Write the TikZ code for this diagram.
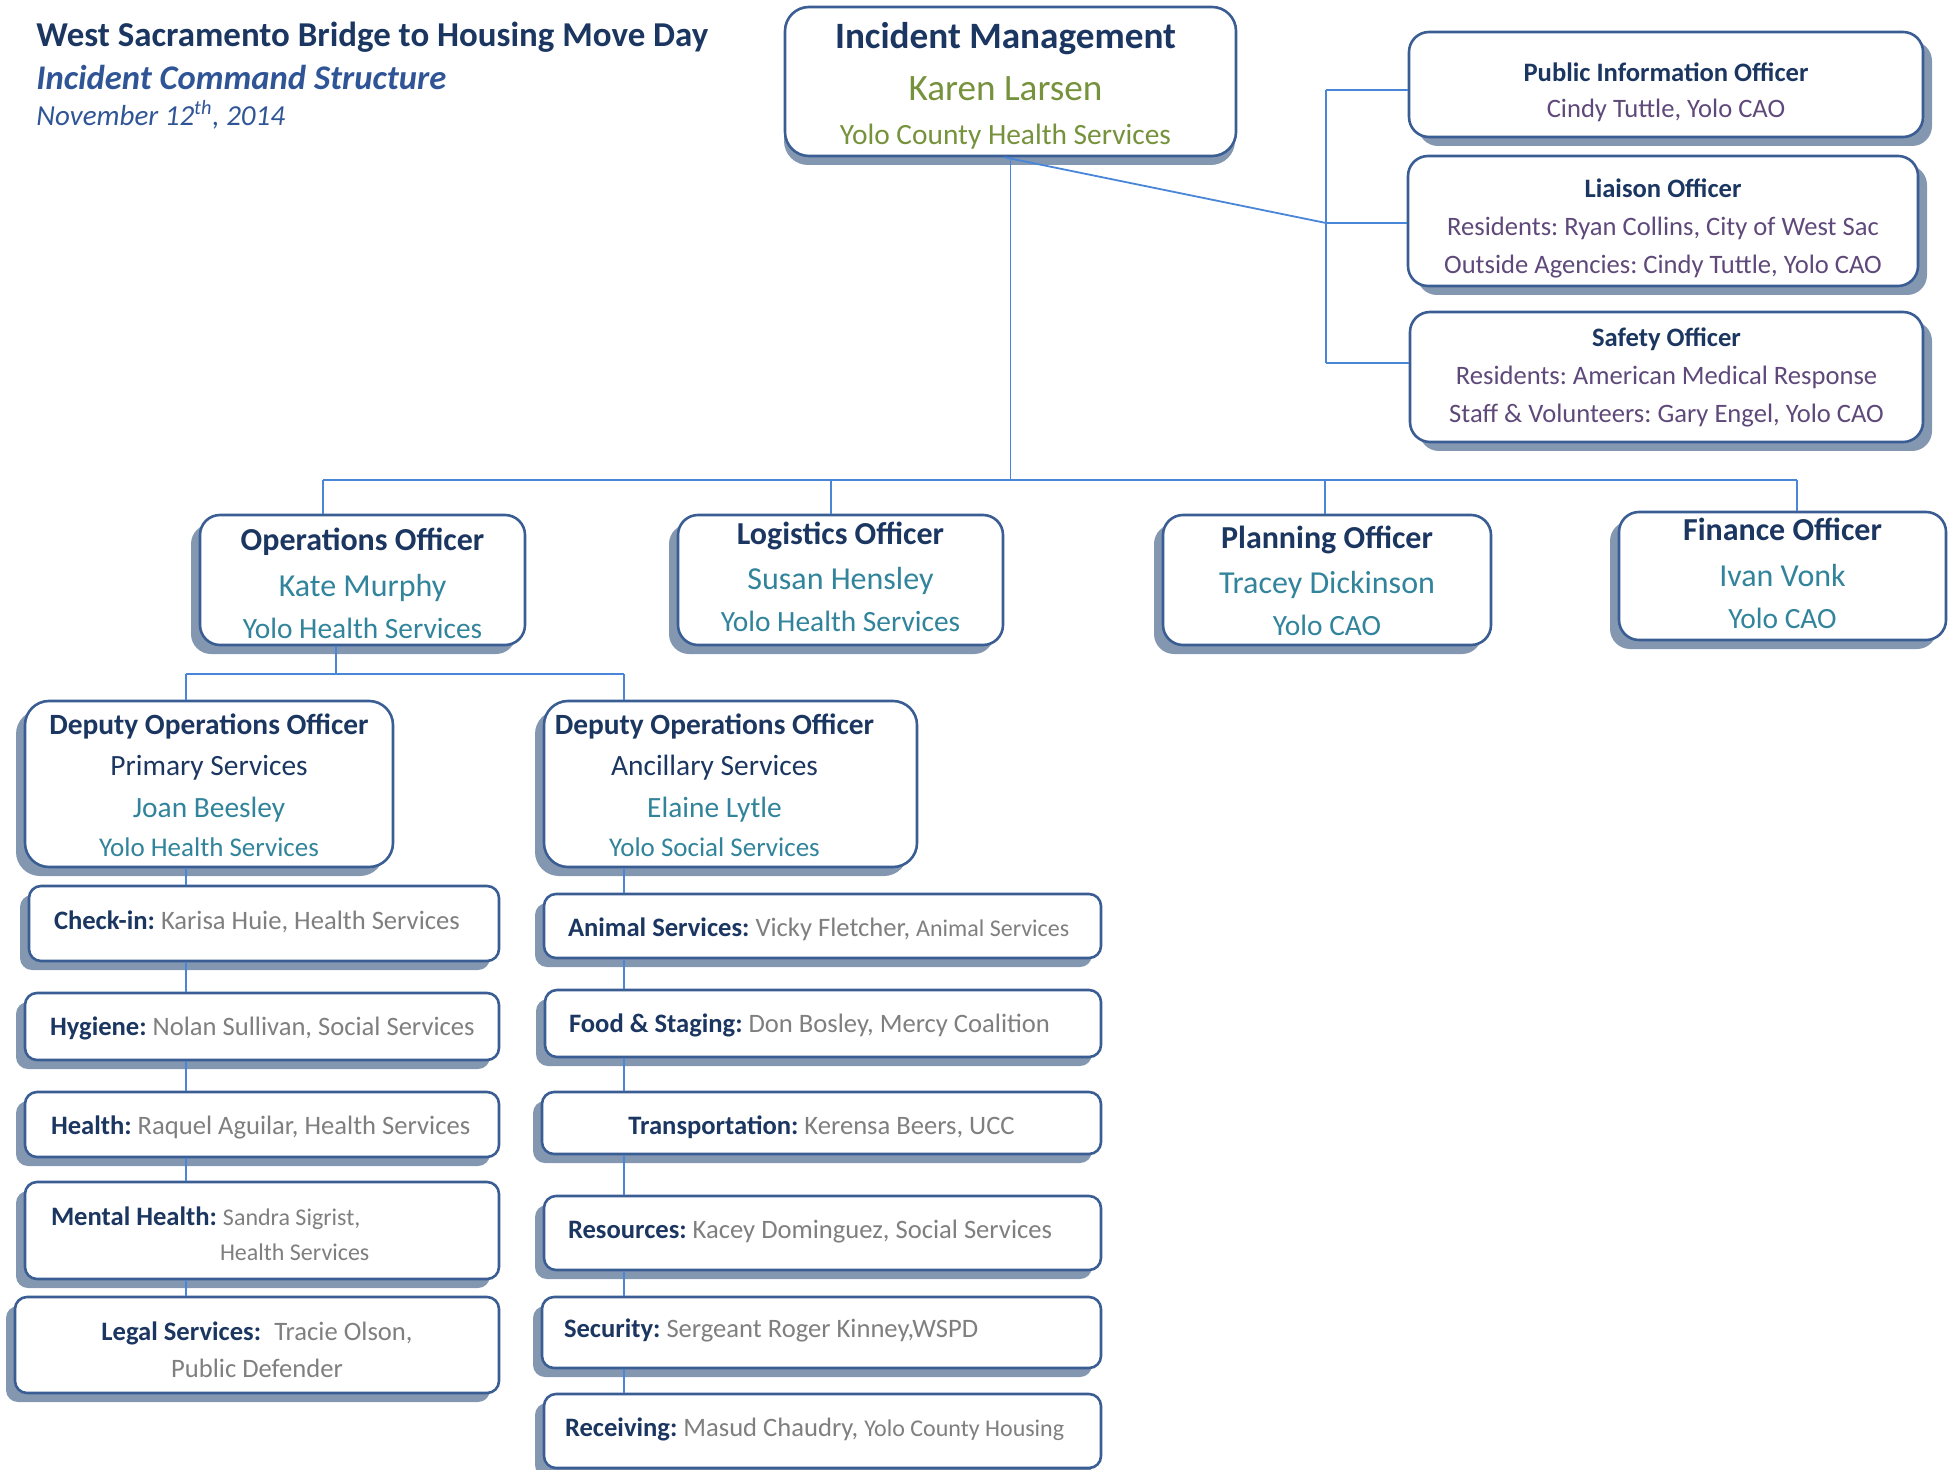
\documentclass[tikz,border=0pt]{standalone}
\usepackage{fontspec}
\setmainfont{Carlito}
\usetikzlibrary{shadows}
\definecolor{hd}{HTML}{1B3660}
\definecolor{tl}{HTML}{31849B}
\definecolor{pu}{HTML}{5F497A}
\definecolor{ol}{HTML}{76923C}
\definecolor{gr}{HTML}{7F7F7F}
\definecolor{bordc}{HTML}{3A5E94}
\definecolor{shadc}{HTML}{8497B0}
\definecolor{linec}{HTML}{4A86D8}
\definecolor{mb}{HTML}{2F5597}
\newcommand\fsz[2]{\fontsize{#1}{#2}\selectfont}
\newcommand\nsp{\spaceskip=0pt\xspaceskip=0pt\relax}
\frenchspacing
\begin{document}
\begin{tikzpicture}[x=0.5pt,y=-0.5pt,
  boxbase/.style={draw=bordc, line width=1.3pt, fill=white, inner sep=3pt},
  big/.style={boxbase, rounded corners=12pt},
  mid/.style={boxbase, rounded corners=10pt},
  small/.style={boxbase, rounded corners=6pt},
  shL/.style={general shadow={shadow xshift=-4.5pt, shadow yshift=-4.5pt, fill=shadc}},
  shR/.style={general shadow={shadow xshift=4.5pt, shadow yshift=-4.5pt, fill=shadc}},
  shD/.style={general shadow={shadow xshift=-0.5pt, shadow yshift=-4.5pt, fill=shadc}},
  conn/.style={draw=linec, line width=0.9pt},
  ttl/.style={anchor=west, inner sep=0pt},
  tb/.style={text height=0pt, text depth=#1},
  sl/.style={text height=#1, text depth=0pt},
  rowl/.style={small, shL, align=left, font=\fsz{13.3}{18}\frenchspacing},
  rowc/.style={small, shL, align=center, font=\fsz{13.3}{18.7}\frenchspacing}
]
\useasboundingbox (0,0) rectangle (1957,1470);

% titles
\node[ttl, font=\fsz{17.45}{20}\bfseries, text=hd] (t1) at (36,37) {West Sacramento Bridge to Housing Move Day};
\node[ttl, font=\fsz{17.3}{20}\bfseries\itshape, text=mb] (t2) at (36,77) {Incident Command Structure};
\node[ttl, font=\fsz{14.5}{18}\itshape, text=mb] (t3) at (36,115) {November 12\textsuperscript{th}, 2014};

% incident management
\node[big, shD, tb=33.3pt, text width=219.5pt, minimum height=74.5pt, align=center, font=\fsz{18.6}{21.9}] (im) at (1010.5,81.5)
 {\nsp\mbox{\bfseries\color{hd}Incident Management\hspace{5pt}}\\[4.3pt]\mbox{\color{ol}Karen Larsen\hspace{5pt}}\\\mbox{\fsz{14.7}{21.9}\color{ol}Yolo County Health Services\hspace{5pt}}};

% command staff
\node[mid, shR, tb=3.4pt, text width=251pt, minimum height=52.5pt, align=center, font=\fsz{13.3}{18.1}\frenchspacing] (pio) at (1666,84.5)
 {\nsp\mbox{\bfseries\color{hd}Public Information Officer}\\\mbox{\color{pu}Cindy Tuttle, Yolo CAO}};
\node[mid, shR, tb=23.8pt, text width=249pt, minimum height=65pt, align=center, font=\fsz{13.3}{19}\frenchspacing] (liaison) at (1663,221)
 {\nsp\mbox{\bfseries\color{hd}Liaison Officer}\\\mbox{\color{pu}Residents: Ryan Collins, City of West Sac}\\\mbox{\color{pu}Outside Agencies: Cindy Tuttle, Yolo CAO}};
\node[mid, shR, tb=30pt, text width=250.5pt, minimum height=65pt, align=center, font=\fsz{13.3}{19}\frenchspacing] (safety) at (1666.5,377)
 {\nsp\mbox{\bfseries\color{hd}Safety Officer}\\\mbox{\color{pu}Residents: American Medical Response}\\\mbox{\color{pu}Staff \& Volunteers: Gary Engel, Yolo CAO}};

% general staff
\node[mid, shL, tb=29.3pt, text width=156.5pt, minimum height=65pt, align=center, font=\fsz{16}{21}] (ops) at (362.5,580)
 {\nsp\mbox{\bfseries\color{hd}Operations Officer}\\[1.7pt]\mbox{\color{tl}Kate Murphy}\\\mbox{\fsz{14.7}{21}\color{tl}Yolo Health Services}};
\node[mid, shL, tb=35.5pt, text width=156.5pt, minimum height=65pt, align=center, font=\fsz{16}{21}] (log) at (840.5,580)
 {\nsp\mbox{\bfseries\color{hd}Logistics Officer}\\[1.7pt]\mbox{\color{tl}Susan Hensley}\\\mbox{\fsz{14.7}{21}\color{tl}Yolo Health Services}};
\node[mid, shL, tb=31.8pt, text width=158pt, minimum height=65pt, align=center, font=\fsz{16}{21}] (plan) at (1327,580)
 {\nsp\mbox{\bfseries\color{hd}Planning Officer}\\[1.7pt]\mbox{\color{tl}Tracey Dickinson}\\\mbox{\fsz{14.7}{21}\color{tl}Yolo CAO}};
\node[mid, shL, tb=35.2pt, text width=157.5pt, minimum height=64pt, align=center, font=\fsz{16}{21}] (fin) at (1782.5,576)
 {\nsp\mbox{\bfseries\color{hd}Finance Officer}\\[1.7pt]\mbox{\color{tl}Ivan Vonk}\\\mbox{\fsz{14.7}{21}\color{tl}Yolo CAO}};

% deputies
\node[big, shL, tb=49.4pt, text width=178pt, minimum height=83pt, align=center, font=\fsz{14.7}{20.6}] (dep1) at (209,784)
 {\nsp\mbox{\bfseries\color{hd}Deputy Operations Officer}\\\mbox{\color{hd}Primary Services}\\\mbox{\color{tl}Joan Beesley}\\[-1pt]\mbox{\fsz{13.5}{20.6}\color{tl}Yolo Health Services}};
\node[big, shL, tb=49.4pt, text width=180.5pt, minimum height=83pt, align=center, font=\fsz{14.7}{20.6}] (dep2) at (730.5,784)
 {\nsp\mbox{\bfseries\color{hd}Deputy Operations Officer\hspace{16pt}}\\\mbox{\color{hd}Ancillary Services\hspace{16pt}}\\\mbox{\color{tl}Elaine Lytle\hspace{16pt}}\\[-1pt]\mbox{\fsz{13.5}{20.6}\color{tl}Yolo Social Services\hspace{16pt}}};

% primary services units
\node[rowl, sl=6.3pt, text width=229pt, minimum height=37.5pt] (checkin) at (264,923.5)
 {\nsp\hspace*{9.5pt}\mbox{\textbf{\color{hd}Check-in:} \color{gr}Karisa Huie, Health Services}};
\node[rowl, sl=9.4pt, text width=231pt, minimum height=33.5pt] (hygiene) at (262,1026.5)
 {\nsp\hspace*{9.5pt}\mbox{\textbf{\color{hd}Hygiene:} \color{gr}Nolan Sullivan, Social Services}};
\node[rowl, sl=9.9pt, text width=231pt, minimum height=32.5pt] (health) at (262,1124.5)
 {\nsp\hspace*{10pt}\mbox{\textbf{\color{hd}Health:} \color{gr}Raquel Aguilar, Health Services}};
\node[rowl, tb=4.9pt, text width=231pt, minimum height=48.5pt, font=\fsz{13.3}{17.6}\frenchspacing] (mental) at (262,1230.5)
 {\nsp\hspace*{10pt}\mbox{\textbf{\color{hd}Mental Health:} {\fsz{12}{17.6}\color{gr}Sandra Sigrist,}}\\\hspace*{94.5pt}\mbox{\fsz{12}{17.6}\color{gr}Health Services}};
\node[rowc, tb=4.6pt, text width=236pt, minimum height=48pt] (legal) at (257,1345)
 {\nsp\mbox{\textbf{\color{hd}Legal Services:}\hspace{0.5em}\color{gr}Tracie Olson,}\\\mbox{\color{gr}Public Defender}};

% ancillary services units
\node[rowl, sl=10pt, text width=272.5pt, minimum height=32pt] (animal) at (822.5,926)
 {\nsp\hspace*{9pt}\mbox{\textbf{\color{hd}Animal Services:} \color{gr}Vicky Fletcher, {\fsz{12}{18}Animal Services}}};
\node[rowl, sl=8.6pt, text width=272pt, minimum height=33.5pt] (food) at (823,1023.5)
 {\nsp\hspace*{9pt}\mbox{\textbf{\color{hd}Food \& Staging:} \color{gr}Don Bosley, Mercy Coalition}};
\node[rowc, sl=11.4pt, text width=273.5pt, minimum height=31pt] (transport) at (821.5,1123)
 {\nsp\mbox{\textbf{\color{hd}Transportation:} \color{gr}Kerensa Beers, UCC}};
\node[rowl, sl=5pt, text width=272.5pt, minimum height=37pt] (resources) at (822.5,1233)
 {\nsp\hspace*{9pt}\mbox{\textbf{\color{hd}Resources:} \color{gr}Kacey Dominguez, Social Services}};
\node[rowl, sl=5.4pt, text width=273.5pt, minimum height=35.5pt] (security) at (821.5,1332.5)
 {\nsp\hspace*{8pt}\mbox{\textbf{\color{hd}Security:} \color{gr}Sergeant Roger Kinney,WSPD}};
\node[rowl, sl=5.5pt, text width=272.5pt, minimum height=37pt] (receiving) at (822.5,1431)
 {\nsp\hspace*{7.5pt}\mbox{\textbf{\color{hd}Receiving:} \color{gr}Masud Chaudry, {\fsz{12}{18}Yolo County Housing}}};

% connectors: command staff
\coordinate (s1) at (1326,90);
\coordinate (s2) at (1326,223);
\coordinate (s3) at (1326,363);
\draw[conn] (s1) -- (s3);
\draw[conn] (s1) -- (s1 -| pio.west);
\draw[conn] (s2) -- (s2 -| liaison.west);
\draw[conn] (s3) -- (s3 -| safety.west);
\draw[conn] ([xshift=-3pt]im.south) -- (s2);

% connectors: general staff
\coordinate (b1) at (323,480);
\coordinate (b2) at (831,480);
\coordinate (b3) at (1325,480);
\coordinate (b4) at (1797,480);
\draw[conn] (im.south) -- (im.south |- b1);
\draw[conn] (b1) -- (b4);
\draw[conn] (b1) -- (b1 |- ops.north);
\draw[conn] (b2) -- (b2 |- log.north);
\draw[conn] (b3) -- (b3 |- plan.north);
\draw[conn] (b4) -- (b4 |- fin.north);

% connectors: deputies
\coordinate (d0) at (336,674);
\coordinate (dl) at (186,674);
\coordinate (dr) at (624,674);
\draw[conn] (d0 |- ops.south) -- (d0);
\draw[conn] (dl) -- (dr);
\draw[conn] (dl) -- (dl |- dep1.north);
\draw[conn] (dr) -- (dr |- dep2.north);

% connectors: unit columns
\foreach \a/\b in {dep1/checkin, checkin/hygiene, hygiene/health, health/mental, mental/legal}
  \draw[conn] (dl |- \a.south) -- (dl |- \b.north);
\foreach \a/\b in {dep2/animal, animal/food, food/transport, transport/resources, resources/security, security/receiving}
  \draw[conn] (dr |- \a.south) -- (dr |- \b.north);
\end{tikzpicture}
\end{document}
